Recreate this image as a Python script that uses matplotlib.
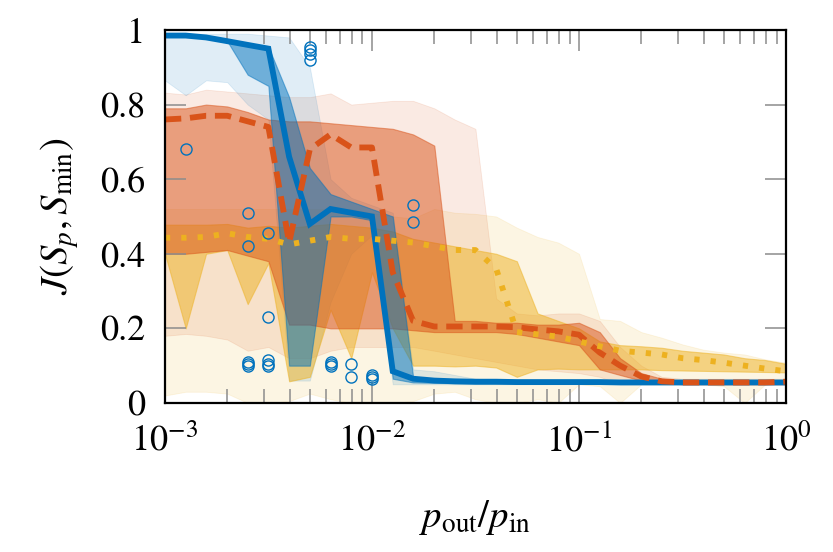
import numpy as np
import matplotlib
matplotlib.use("Agg")
import matplotlib.pyplot as plt
from matplotlib.ticker import FixedLocator, LogLocator, NullFormatter, FuncFormatter

plt.rcParams['font.family'] = ['STIXGeneral', 'DejaVu Serif']
plt.rcParams['mathtext.fontset'] = 'stix'

# p_out / p_in sample grid
p_ratio = [0.001, 0.00126, 0.00158, 0.002, 0.00251, 0.00316, 0.00398, 0.00501, 0.00631, 0.00794,
           0.01, 0.0126, 0.0158, 0.02, 0.0251, 0.0316, 0.0398, 0.0501, 0.0631, 0.0794,
           0.1, 0.126, 0.158, 0.2, 0.251, 0.316, 0.398, 0.501, 0.631, 0.794, 1.0]

# blue series (solid)
blue_med = [0.985, 0.985, 0.98, 0.97, 0.96, 0.95, 0.66, 0.48, 0.52, 0.51, 0.50, 0.085, 0.065, 0.06, 0.058, 0.057,
            0.057, 0.056, 0.056, 0.056, 0.056, 0.056, 0.055, 0.055, 0.055, 0.055, 0.055, 0.055, 0.055, 0.055, 0.055]
blue_q1 = [0.985, 0.985, 0.98, 0.97, 0.88, 0.85, 0.10, 0.10, 0.50, 0.50, 0.49, 0.065, 0.055, 0.054, 0.053, 0.052,
           0.052, 0.052, 0.052, 0.052, 0.052, 0.052, 0.052, 0.052, 0.052, 0.052, 0.052, 0.052, 0.052, 0.052, 0.052]
blue_q3 = [0.985, 0.985, 0.98, 0.97, 0.965, 0.955, 0.82, 0.63, 0.56, 0.54, 0.52, 0.50, 0.07, 0.065, 0.062, 0.06,
           0.06, 0.06, 0.06, 0.06, 0.06, 0.06, 0.06, 0.06, 0.06, 0.06, 0.06, 0.06, 0.06, 0.06, 0.06]
blue_lo = [0.865, 0.825, 0.865, 0.86, 0.80, 0.76, 0.06, 0.06, 0.27, 0.40, 0.45, 0.05, 0.05, 0.05, 0.05, 0.05,
           0.05, 0.05, 0.05, 0.05, 0.05, 0.05, 0.05, 0.05, 0.05, 0.05, 0.05, 0.05, 0.05, 0.05, 0.05]
blue_hi = [0.99, 0.99, 0.99, 0.99, 0.99, 0.985, 0.98, 0.90, 0.60, 0.55, 0.53, 0.51, 0.09, 0.085, 0.075, 0.065,
           0.062, 0.06, 0.06, 0.06, 0.06, 0.06, 0.06, 0.06, 0.06, 0.06, 0.06, 0.06, 0.06, 0.06, 0.06]

# blue outliers
out_x = [0.00126, 0.00251, 0.00251, 0.00251, 0.00251, 0.00251, 0.00316, 0.00316, 0.00316, 0.00316, 0.00316,
         0.00501, 0.00501, 0.00501, 0.00501, 0.00631, 0.00631, 0.00631, 0.00794, 0.00794,
         0.01, 0.01, 0.01, 0.0158, 0.0158]
out_y = [0.68, 0.51, 0.42, 0.11, 0.105, 0.10, 0.455, 0.23, 0.115, 0.105, 0.10,
         0.955, 0.945, 0.935, 0.92, 0.11, 0.105, 0.10, 0.105, 0.07,
         0.075, 0.07, 0.065, 0.53, 0.485]

# orange series (dashed)
orange_med = [0.76, 0.763, 0.77, 0.77, 0.755, 0.74, 0.43, 0.68, 0.72, 0.685, 0.685, 0.35, 0.22, 0.205, 0.205, 0.205,
              0.205, 0.203, 0.197, 0.192, 0.183, 0.135, 0.10, 0.071, 0.058, 0.055, 0.055, 0.055, 0.055, 0.055, 0.057]
orange_q1 = [0.40, 0.40, 0.405, 0.41, 0.395, 0.38, 0.21, 0.21, 0.20, 0.20, 0.20, 0.20, 0.195, 0.19, 0.19, 0.19,
             0.19, 0.185, 0.175, 0.165, 0.155, 0.09, 0.075, 0.06, 0.055, 0.05, 0.05, 0.05, 0.05, 0.05, 0.05]
orange_q3 = [0.79, 0.79, 0.80, 0.795, 0.78, 0.76, 0.755, 0.755, 0.75, 0.745, 0.74, 0.735, 0.72, 0.69, 0.22, 0.22,
             0.215, 0.215, 0.21, 0.21, 0.215, 0.19, 0.12, 0.08, 0.065, 0.06, 0.06, 0.06, 0.06, 0.06, 0.06]
orange_lo = [0.18, 0.185, 0.18, 0.17, 0.14, 0.15, 0.12, 0.12, 0.14, 0.15, 0.15, 0.15, 0.15, 0.14, 0.13, 0.12,
             0.11, 0.10, 0.09, 0.085, 0.08, 0.07, 0.05, 0.05, 0.05, 0.05, 0.05, 0.05, 0.05, 0.05, 0.05]
orange_hi = [0.832, 0.827, 0.84, 0.835, 0.83, 0.825, 0.82, 0.82, 0.83, 0.80, 0.805, 0.81, 0.81, 0.79, 0.76, 0.735,
             0.28, 0.24, 0.235, 0.24, 0.24, 0.22, 0.15, 0.10, 0.07, 0.065, 0.065, 0.065, 0.065, 0.065, 0.065]

# yellow series (dotted)
yellow_med = [0.443, 0.443, 0.445, 0.455, 0.445, 0.44, 0.425, 0.435, 0.445, 0.44, 0.44, 0.435, 0.43, 0.42, 0.41, 0.41,
              0.36, 0.19, 0.184, 0.178, 0.165, 0.152, 0.14, 0.135, 0.13, 0.12, 0.115, 0.108, 0.10, 0.092, 0.085]
yellow_q1 = [0.40, 0.20, 0.40, 0.41, 0.265, 0.375, 0.058, 0.07, 0.25, 0.12, 0.35, 0.20, 0.10, 0.10, 0.098, 0.10,
             0.095, 0.07, 0.09, 0.092, 0.09, 0.09, 0.09, 0.09, 0.088, 0.087, 0.086, 0.085, 0.084, 0.083, 0.082]
yellow_q3 = [0.478, 0.478, 0.478, 0.48, 0.47, 0.475, 0.47, 0.475, 0.48, 0.475, 0.47, 0.46, 0.44, 0.43, 0.42, 0.41,
             0.40, 0.38, 0.24, 0.22, 0.20, 0.165, 0.155, 0.152, 0.148, 0.14, 0.135, 0.13, 0.12, 0.115, 0.105]
yellow_lo = [0.02, 0.03, 0.03, 0.025, 0.0, 0.0, 0.005, 0.025, 0.01, 0.0, 0.0, 0.0, 0.005, 0.025, 0.03, 0.01,
             0.0, 0.0, 0.01, 0.0, 0.05, 0.045, 0.0, 0.05, 0.05, 0.05, 0.05, 0.045, 0.0, 0.05, 0.05]
yellow_hi = [0.52, 0.52, 0.52, 0.52, 0.52, 0.52, 0.52, 0.52, 0.52, 0.52, 0.51, 0.50, 0.495, 0.52, 0.51, 0.507,
             0.50, 0.47, 0.445, 0.43, 0.40, 0.225, 0.22, 0.19, 0.175, 0.157, 0.143, 0.135, 0.13, 0.117, 0.108]

BLUE = '#0072BD'
ORANGE = '#D95319'
YELLOW = '#EDB120'

fig = plt.figure(figsize=(8.33, 5.52), dpi=100)
ax = fig.add_axes([0.198, 0.270, 0.7456, 0.6757])

# outer bands
for lo, hi, c in [(yellow_lo, yellow_hi, YELLOW), (orange_lo, orange_hi, ORANGE), (blue_lo, blue_hi, BLUE)]:
    ax.fill_between(p_ratio, lo, hi, color=c, alpha=0.12, lw=0.6)
# interquartile bands
for lo, hi, c in [(yellow_q1, yellow_q3, YELLOW), (orange_q1, orange_q3, ORANGE), (blue_q1, blue_q3, BLUE)]:
    ax.fill_between(p_ratio, lo, hi, color=c, alpha=0.5, lw=0.8)

ax.plot(p_ratio, blue_med, color=BLUE, lw=4.2, solid_joinstyle='miter')
ax.plot(p_ratio, orange_med, color=ORANGE, lw=4.2, dashes=(2.8, 1.5))
ax.plot(p_ratio, yellow_med, color=YELLOW, lw=4.2, dashes=(0.9, 1.9), dash_capstyle='butt')
ax.plot(out_x, out_y, 'o', ms=8, mfc='none', mec=BLUE, mew=1.0)

ax.set_xscale('log')
ax.set_xlim(1e-3, 1)
ax.set_ylim(0, 1)

ax.yaxis.set_major_locator(FixedLocator([0, 0.2, 0.4, 0.6, 0.8, 1.0]))
ax.yaxis.set_major_formatter(FuncFormatter(lambda v, pos: '%g' % v))
ax.xaxis.set_major_locator(FixedLocator([1e-3, 1e-2, 1e-1, 1]))
ax.xaxis.set_major_formatter(FuncFormatter(lambda v, pos: r'$10^{%d}$' % round(np.log10(v))))
ax.xaxis.set_minor_locator(LogLocator(base=10, subs=np.arange(2, 10)))
ax.xaxis.set_minor_formatter(NullFormatter())

ax.tick_params(which='both', direction='in', top=True, right=True, color='#8c8c8c', width=1.1,
               labelsize=26)
ax.tick_params(which='major', length=15)
ax.tick_params(which='minor', length=10)
ax.tick_params(axis='x', pad=15)
ax.tick_params(axis='y', pad=14)
for s in ax.spines.values():
    s.set_linewidth(1.6)
    s.set_color('black')

ax.set_xlabel(r'$p_{\rm out}/p_{\rm in}$', fontsize=28, labelpad=28)
ax.set_ylabel(r'$J(S_p, S_{\rm min})$', fontsize=28, labelpad=14)

fig.savefig('out.png', dpi=100)
